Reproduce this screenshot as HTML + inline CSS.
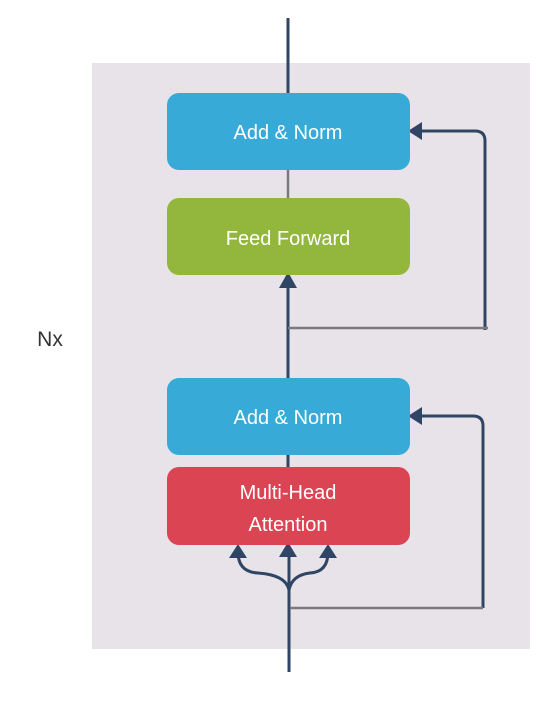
<!DOCTYPE html>
<html><head><style>
body{margin:0;width:560px;height:702px;background:#fff;overflow:hidden}
text{font-family:"Liberation Sans",sans-serif;fill:#fff;font-size:20px;text-anchor:middle}
</style></head><body>
<svg width="560" height="702" viewBox="0 0 560 702">
<rect x="92" y="63" width="438" height="586" fill="#e8e3e8"/>
<text x="50" y="346" style="fill:#333;font-size:21px">Nx</text>
<g stroke="#2f4563" stroke-width="3" fill="none">
<line x1="288" y1="18" x2="288" y2="94"/>
<line x1="288" y1="282" x2="288" y2="378"/>
<line x1="288" y1="455" x2="288" y2="467"/>
<line x1="289" y1="548" x2="289" y2="672"/>
<path d="M485 330 V141 Q485 131 475 131 H420"/>
<path d="M483 608 V426 Q483 416 473 416 H420"/>
<path d="M238 552 Q238 572 258 573 Q286 575 289 590"/>
<path d="M328 552 Q328 572 310 573 Q292 575 289 590"/>
</g>
<g stroke="#7a7a80" stroke-width="2.5">
<line x1="288" y1="170" x2="288" y2="198"/>
<line x1="288" y1="328" x2="488" y2="328"/>
<line x1="290" y1="608" x2="483" y2="608"/>
</g>
<g fill="#2f4563">
<polygon points="408,131 422,122 422,140"/>
<polygon points="408,416 422,407 422,425"/>
<polygon points="288,272 279,288 297,288"/>
<polygon points="238,544 229,558 247,558"/>
<polygon points="288,542 279,557 297,557"/>
<polygon points="328,544 319,558 337,558"/>
</g>
<rect x="167" y="93" width="243" height="77" rx="12" fill="#37aad7"/>
<rect x="167" y="198" width="243" height="77" rx="12" fill="#93b73d"/>
<rect x="167" y="378" width="243" height="77" rx="12" fill="#37aad7"/>
<rect x="167" y="467" width="243" height="78" rx="12" fill="#da4453"/>
<text x="288" y="139">Add &amp; Norm</text>
<text x="288" y="245">Feed Forward</text>
<text x="288" y="424">Add &amp; Norm</text>
<text x="288" y="499">Multi-Head</text>
<text x="288" y="531">Attention</text>
</svg>
</body></html>
